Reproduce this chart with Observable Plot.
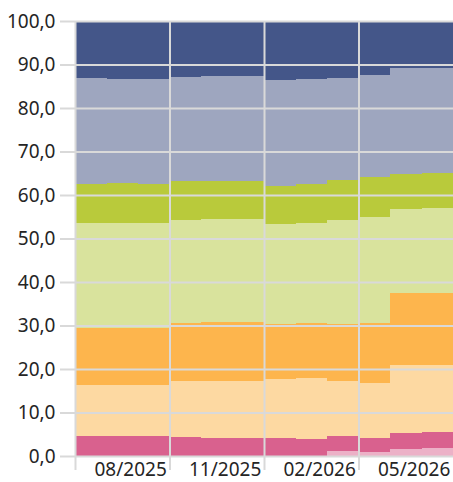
<!DOCTYPE html>
<html>
<head>
<meta charset="utf-8">
<script src="https://cdn.jsdelivr.net/npm/d3@7"></script>
<script src="https://cdn.jsdelivr.net/npm/@observablehq/plot@0.6"></script>
<style>
  html, body { margin: 0; padding: 0; background: #fff; }
</style>
</head>
<body>
<div id="chart"></div>
<script>
// Months (one stacked column per month)
const months = ["07/2025","08/2025","09/2025","10/2025","11/2025","12/2025",
                "01/2026","02/2026","03/2026","04/2026","05/2026","06/2026"];

// Series, bottom to top
const seriesNames = ["Serie 1","Serie 2","Serie 3","Serie 4","Serie 5","Serie 6","Serie 7","Serie 8"];
const seriesColors = ["#ecb1c7","#d9618e","#fdd9a2","#fdb54d","#d9e39d","#b9ca3b","#9ea6bf","#445689"];

// Values (percent) per month
const serie1 = [0, 0, 0, 0, 0, 0, 0, 0, 1.1, 1.0, 1.6, 1.8];
const serie2 = [4.6, 4.6, 4.6, 4.4, 4.1, 4.1, 4.1, 3.9, 3.6, 3.1, 3.8, 3.7];
const serie3 = [11.7, 11.8, 11.8, 12.9, 13.1, 13.15, 13.7, 14.1, 12.5, 12.75, 15.45, 15.5];
const serie4 = [13.05, 13.1, 13.0, 13.2, 13.5, 13.55, 12.5, 12.65, 13.2, 13.72, 16.65, 16.55];
const serie5 = [24.15, 24.1, 24.15, 23.75, 23.7, 23.75, 23.1, 22.95, 23.85, 24.33, 19.3, 19.35];
const serie6 = [9.1, 9.1, 8.95, 8.95, 8.9, 8.75, 8.67, 9.0, 9.2, 9.17, 8.0, 8.1];
const serie7 = [24.2, 24.0, 24.2, 24.0, 24.06, 24.1, 24.33, 24.0, 23.52, 23.43, 24.4, 24.3];
const serie8 = [13.2, 13.3, 13.3, 12.8, 12.64, 12.6, 13.6, 13.4, 13.03, 12.5, 10.8, 10.7];

// Axis ticks
const yTicks = [0, 10, 20, 30, 40, 50, 60, 70, 80, 90, 100];
const xTickLabels = ["08/2025", "11/2025", "02/2026", "05/2026"];
const quarterStartMonths = ["07/2025", "10/2025", "01/2026", "04/2026"];

const allSeries = [serie1, serie2, serie3, serie4, serie5, serie6, serie7, serie8];
const table = [];
months.forEach((m, i) => {
  allSeries.forEach((vals, k) => {
    table.push({i, month: m, s: seriesNames[k], v: vals[i]});
  });
});

const quarterIdx = quarterStartMonths.map(m => months.indexOf(m));
const labelIdx = xTickLabels.map(m => months.indexOf(m) + 0.75);
const grid = "#d9d9d9";

const chart = Plot.plot({
  width: 453,
  height: 482,
  marginLeft: 75,
  marginRight: 0,
  marginTop: 21,
  marginBottom: 26,
  style: {fontFamily: "'Noto Sans', sans-serif", fontSize: "19px", color: "#252525", background: "#fff"},
  x: {domain: [0, months.length]},
  y: {domain: [0, 100]},
  color: {domain: seriesNames, range: seriesColors},
  marks: [
    Plot.rectY(table, {x1: "i", x2: d => d.i + 1, y: "v", fill: "s", inset: 0, shapeRendering: "crispEdges"}),
    Plot.gridY(yTicks, {stroke: grid, strokeOpacity: 1, strokeWidth: 2}),
    Plot.gridX(quarterIdx, {stroke: grid, strokeOpacity: 1, strokeWidth: 2}),
    Plot.axisY(yTicks, {
      tickSize: 15, tickPadding: 5, stroke: grid, strokeWidth: 2, fill: "#252525",
      tickFormat: d => d.toFixed(1).replace(".", ","), label: null
    }),
    Plot.axisX(quarterIdx, {tickSize: 14, stroke: grid, strokeWidth: 2, tickFormat: () => "", label: null}),
    Plot.axisX(labelIdx, {
      tickSize: 0, tickPadding: 6, fill: "#252525",
      tickFormat: (d, i) => xTickLabels[i], label: null
    })
  ]
});
document.getElementById("chart").appendChild(chart);
</script>
</body>
</html>
